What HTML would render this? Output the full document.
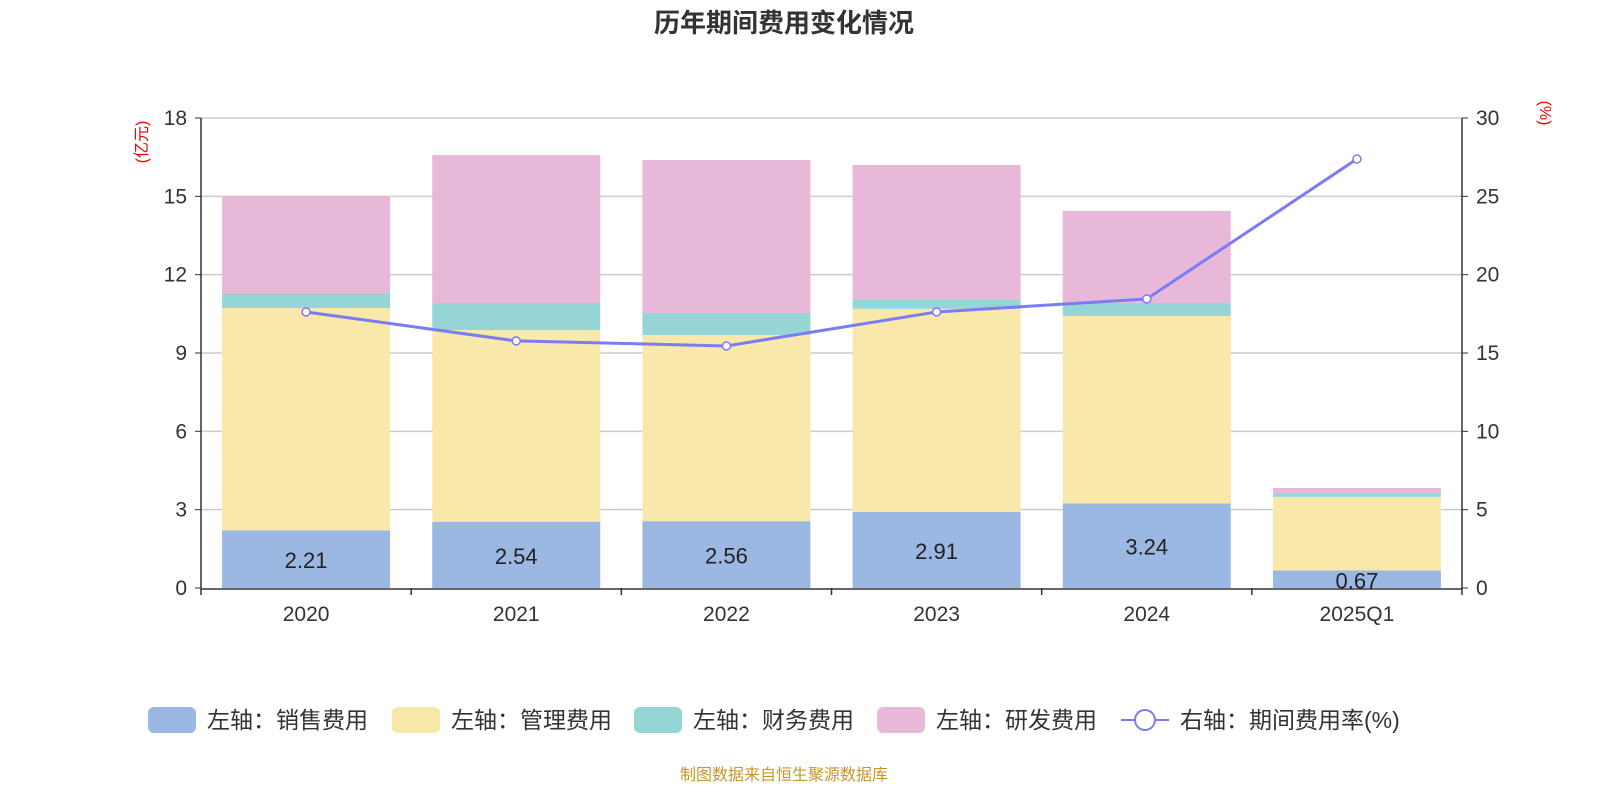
<!DOCTYPE html>
<html><head><meta charset="utf-8"><style>
html,body{margin:0;padding:0;background:#fff;}
svg{display:block;font-family:"Liberation Sans","Noto Sans CJK SC",sans-serif;}
</style></head><body>
<svg id="chart" width="1600" height="800" viewBox="0 0 1600 800" xmlns="http://www.w3.org/2000/svg">
<text x="784" y="32" text-anchor="middle" font-size="26" font-weight="bold" fill="#333">历年期间费用变化情况</text>
<text transform="translate(147,142) rotate(-90)" text-anchor="middle" font-size="16" fill="#e00">(亿元)</text>
<text transform="translate(1540,113) rotate(90)" text-anchor="middle" font-size="16" fill="#e00">(%)</text>
<g id="grid"></g><g id="bars"></g><g id="axes"></g><g id="line"></g><g id="labels"></g>
<g id="legend"></g>
<text x="784" y="780" text-anchor="middle" font-size="16" fill="#c8962a">制图数据来自恒生聚源数据库</text>
</svg>
<script>
const categories=["2020","2021","2022","2023","2024","2025Q1"];
const sales=[2.21,2.54,2.56,2.91,3.24,0.67];
const admin=[8.51,7.34,7.13,7.78,7.18,2.82];
const finance=[0.58,1.04,0.84,0.34,0.50,0.11];
const rnd=[3.71,5.66,5.86,5.17,3.52,0.23];
const rate=[17.62,15.77,15.45,17.62,18.45,27.38];
const leftTicks=[0,3,6,9,12,15,18];
const rightTicks=[0,5,10,15,20,25,30];
const seriesNames=["左轴：销售费用","左轴：管理费用","左轴：财务费用","左轴：研发费用","右轴：期间费用率(%)"];

const NS="http://www.w3.org/2000/svg";
const X0=201,X1=1462,Y0=588,Y1=118;
const band=(X1-X0)/categories.length;
const xc=i=>X0+band*(i+0.5);
const yL=v=>Y0-(v/18)*(Y0-Y1);
const yR=v=>Y0-(v/30)*(Y0-Y1);
function mk(tag,attrs,parent,txt){const e=document.createElementNS(NS,tag);for(const k in attrs)e.setAttribute(k,attrs[k]);if(txt!=null)e.textContent=txt;document.getElementById(parent).appendChild(e);return e;}

leftTicks.forEach((t,i)=>{
  if(t>0){const g=mk('line',{x1:X0,x2:X1,y1:yL(t),y2:yL(t),stroke:'#ccc','stroke-width':1.5},'grid');
  
  }
  const a=mk('text',{x:X0-14,y:yL(t)+7,'text-anchor':'end','font-size':21,fill:'#333'},'axes',t);
  
  
  mk('line',{x1:X0-6,x2:X0,y1:yL(t),y2:yL(t),stroke:'#333'},'axes');
});
rightTicks.forEach(t=>{
  const a=mk('text',{x:X1+14,y:yR(t)+7,'text-anchor':'start','font-size':21,fill:'#333'},'axes',t);
  
  
  mk('line',{x1:X1,x2:X1+6,y1:yR(t),y2:yR(t),stroke:'#333'},'axes');
});
mk('line',{x1:X0,x2:X0,y1:Y1,y2:Y0,stroke:'#333','stroke-width':1.5},'axes');
mk('line',{x1:X1,x2:X1,y1:Y1,y2:Y0,stroke:'#333','stroke-width':1.5},'axes');
mk('line',{x1:X0,x2:X1,y1:Y0+1,y2:Y0+1,stroke:'#333','stroke-width':1.5},'axes');
for(let i=0;i<=categories.length;i++){mk('line',{x1:X0+band*i,x2:X0+band*i,y1:Y0,y2:Y0+7,stroke:'#333','stroke-width':1.5},'axes');}
categories.forEach((c,i)=>{
  const t=mk('text',{x:xc(i),y:621,'text-anchor':'middle','font-size':21,fill:'#333'},'axes',c);
  
  
});

const stacks=[[sales,'#9bb8e3','sales'],[admin,'#f8e8a9','admin'],[finance,'#95d5d5','finance'],[rnd,'#e8b8d8','rnd']];
const bw=168;
categories.forEach((c,i)=>{
  let base=0;
  stacks.forEach(([arr,col,nm])=>{
    const top=base+arr[i];
    const r=mk('rect',{x:xc(i)-bw/2,y:yL(top),width:bw,height:yL(base)-yL(top),fill:col},'bars');
    
    
    base=top;
  });
  const l=mk('text',{x:xc(i),y:(yL(0)+yL(sales[i]))/2+9,'text-anchor':'middle','font-size':22,fill:'#222'},'labels',sales[i].toFixed(2));
  
  
});

const pts=rate.map((v,i)=>xc(i)+','+yR(v)).join(' ');
const pl=mk('polyline',{points:pts,fill:'none',stroke:'#7b7bf2','stroke-width':3},'line');


rate.forEach((v,i)=>{
  const p=mk('circle',{cx:xc(i),cy:yR(v),r:4,fill:'#fff',stroke:'#7b7bf2','stroke-width':1.5},'line');
  
  
});

const lx=[148,392,634,877,1121];
const cols=['#9bb8e3','#f8e8a9','#95d5d5','#e8b8d8'];
seriesNames.forEach((n,i)=>{
  if(i<4){const s=mk('rect',{x:lx[i],y:707,width:48,height:26,rx:6,fill:cols[i]},'legend');
    
    }
  else{mk('line',{x1:lx[i],x2:lx[i]+48,y1:720,y2:720,stroke:'#7b7bf2','stroke-width':2},'legend');
    const c=mk('circle',{cx:lx[i]+24,cy:720,r:10,fill:'#fff',stroke:'#7b7bf2','stroke-width':2},'legend');
    
    }
  const t=mk('text',{x:lx[i]+59,y:728,'font-size':23,fill:'#333'},'legend',n);
  
  
});
</script>
</body></html>
